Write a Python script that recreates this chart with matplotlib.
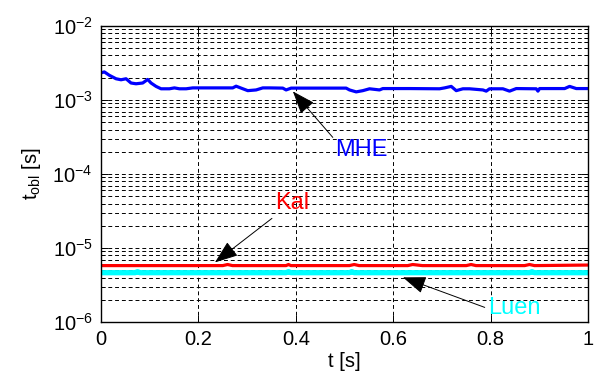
import matplotlib
matplotlib.use("Agg")
import matplotlib.pyplot as plt

plt.rcParams["font.family"] = ["Liberation Sans", "DejaVu Sans"]
plt.rcParams["mathtext.fontset"] = "custom"
plt.rcParams["mathtext.rm"] = "Liberation Sans"
plt.rcParams["mathtext.it"] = "Liberation Sans"
plt.rcParams["mathtext.bf"] = "Liberation Sans:bold"

# MHE computation time
t_mhe = [0, 0.0068, 0.0171, 0.0308, 0.0411, 0.0514, 0.0616, 0.0719, 0.0856, 0.0959,
         0.1027, 0.1130, 0.1233, 0.1404, 0.1507, 0.1610, 0.1747, 0.1884, 0.2705, 0.2774,
         0.2877, 0.3014, 0.3185, 0.3322, 0.3459, 0.3733, 0.3801, 0.3904, 0.5034, 0.5103,
         0.5240, 0.5377, 0.5514, 0.5719, 0.5788, 0.6336, 0.6952, 0.7055, 0.7192, 0.7295,
         0.7432, 0.7568, 0.7842, 0.7911, 0.7979, 0.8253, 0.8390, 0.8527, 0.8938, 0.8973,
         0.9007, 0.9521, 0.9623, 0.9760, 1.0]
mhe = [2.33e-3, 2.40e-3, 2.16e-3, 1.94e-3, 1.88e-3, 1.94e-3, 1.70e-3, 1.66e-3, 1.70e-3, 1.90e-3,
       1.70e-3, 1.53e-3, 1.42e-3, 1.42e-3, 1.46e-3, 1.42e-3, 1.42e-3, 1.46e-3, 1.46e-3, 1.54e-3,
       1.45e-3, 1.34e-3, 1.37e-3, 1.46e-3, 1.46e-3, 1.45e-3, 1.37e-3, 1.45e-3, 1.45e-3, 1.37e-3,
       1.29e-3, 1.34e-3, 1.42e-3, 1.37e-3, 1.43e-3, 1.43e-3, 1.42e-3, 1.46e-3, 1.53e-3, 1.34e-3,
       1.42e-3, 1.42e-3, 1.37e-3, 1.32e-3, 1.42e-3, 1.42e-3, 1.32e-3, 1.43e-3, 1.42e-3, 1.32e-3,
       1.43e-3, 1.43e-3, 1.53e-3, 1.43e-3, 1.43e-3]

# Kalman filter computation time
t_kal = [0, 0.25, 0.26, 0.27, 0.38, 0.385, 0.39, 0.51, 0.52, 0.53, 0.63, 0.64, 0.65, 0.66,
         0.75, 0.76, 0.77, 0.87, 0.88, 0.89, 1.0]
kal = [5.8e-6, 5.8e-6, 6.0e-6, 5.8e-6, 5.8e-6, 6.0e-6, 5.8e-6, 5.8e-6, 6.0e-6, 5.8e-6,
       5.8e-6, 6.0e-6, 5.9e-6, 5.8e-6, 5.8e-6, 6.0e-6, 5.8e-6, 5.8e-6, 6.0e-6, 5.8e-6, 5.9e-6]

# Luenberger observer computation time
t_luen = [0, 0.07, 0.075, 0.08, 0.38, 0.385, 0.39, 0.51, 0.515, 0.52, 0.88, 0.885, 0.89, 1.0]
luen = [4.65e-6, 4.65e-6, 4.8e-6, 4.65e-6, 4.65e-6, 4.8e-6, 4.65e-6, 4.65e-6, 4.8e-6,
        4.65e-6, 4.65e-6, 4.8e-6, 4.65e-6, 4.65e-6]

x_ticks = [0, 0.2, 0.4, 0.6, 0.8, 1]
x_labels = ["0", "0.2", "0.4", "0.6", "0.8", "1"]
y_ticks = [1e-6, 1e-5, 1e-4, 1e-3, 1e-2]
y_labels = [r"$10^{-6}$", r"$10^{-5}$", r"$10^{-4}$", r"$10^{-3}$", r"$10^{-2}$"]

fig = plt.figure(figsize=(5.96, 3.83), dpi=100)
ax = fig.add_axes([0.1695, 0.159, 0.817, 0.773])

ax.plot(t_mhe, mhe, color="#0000ff", lw=2.3)
ax.plot(t_kal, kal, color="#ff0000", lw=2.3)
ax.plot(t_luen, luen, color="#00ffff", lw=3.8)

ax.set_yscale("log")
ax.set_xlim(0, 1)
ax.set_ylim(1e-6, 1e-2)
ax.set_xticks(x_ticks)
ax.set_xticklabels(x_labels)
ax.set_yticks(y_ticks)
ax.set_yticklabels(y_labels)

dash = (0, (4, 3))
ax.grid(True, which="major", axis="both", color="black", lw=0.7, linestyle=dash)
ax.grid(True, which="minor", axis="y", color="black", lw=0.7, linestyle=dash)
ax.tick_params(which="both", direction="in", top=True, right=True, labelsize=14.5)
ax.tick_params(which="major", length=5, width=0.7, pad=6)
ax.tick_params(which="minor", length=3, width=0.7)
for sp in ax.spines.values():
    sp.set_linewidth(1.0)

ax.set_xlabel("t [s]", fontsize=14.5, labelpad=2)
ax.set_ylabel(r"t$_{\rm obl}$ [s]", fontsize=14.5, labelpad=7)

arrow = dict(arrowstyle="-|>,head_length=1.2,head_width=0.45", color="black",
             lw=0.7, mutation_scale=12, shrinkA=0, shrinkB=0)
ax.annotate("", xy=(0.394, 1.31e-3), xytext=(0.476, 3.13e-4), arrowprops=arrow)
ax.text(0.534, 2.09e-4, "MHE", color="#0000ff", fontsize=17, ha="center", va="center")
ax.annotate("", xy=(0.234, 6.41e-6), xytext=(0.351, 2.52e-5), arrowprops=arrow)
ax.text(0.392, 4.01e-5, "Kal", color="#ff0000", fontsize=17, ha="center", va="center")
ax.annotate("", xy=(0.620, 4.02e-6), xytext=(0.788, 1.58e-6), arrowprops=arrow)
ax.text(0.848, 1.53e-6, "Luen", color="#00ffff", fontsize=17, ha="center", va="center")

fig.savefig("out.png", dpi=100)
